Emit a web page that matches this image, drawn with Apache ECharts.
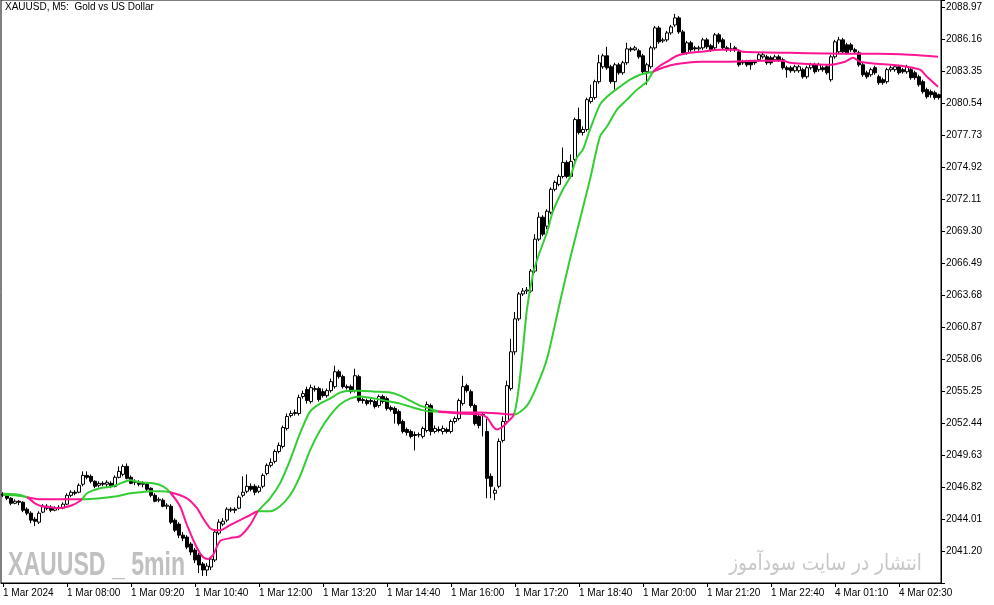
<!DOCTYPE html>
<html><head><meta charset="utf-8">
<script src="https://cdn.jsdelivr.net/npm/echarts@6/dist/echarts.min.js"></script>
<style>html,body{margin:0;padding:0;background:#fff}#c{width:994px;height:605px}</style>
</head><body><div id="c"></div>
<script>
// ---- candle data (XAUUSD M5) ----
const opens = [
2046.18,2046.09,2045.83,2045.39,2045.57,2045.48,2044.87,2044.52,2043.99,2043.73,
2044.61,2045.13,2045.04,2044.78,2044.96,2044.96,2045.31,2046.09,2046.36,2046.36,
2047.06,2047.84,2047.76,2047.32,2046.97,2047.14,2047.06,2047.14,2046.88,2047.67,
2047.93,2048.63,2047.67,2047.23,2047.23,2047.06,2047.06,2046.71,2046.09,2045.66,
2045.66,2045.13,2045.13,2043.91,2043.56,2042.59,2042.42,2041.81,2041.28,2040.84,
2040.06,2039.53,2039.79,2040.41,2042.77,2043.56,2043.91,2044.78,2044.87,2044.96,
2046.09,2046.44,2046.88,2046.88,2046.44,2046.88,2048.01,2048.72,2049.07,2049.94,
2050.38,2051.96,2053.09,2053.27,2053.27,2054.76,2055.37,2054.32,2055.37,2055.46,
2055.19,2054.84,2055.28,2055.63,2056.94,2056.51,2055.63,2055.63,2055.28,2056.51,
2054.49,2054.41,2054.41,2054.32,2053.97,2054.76,2054.58,2053.79,2053.71,2053.44,
2052.57,2051.87,2051.69,2051.43,2051.43,2051.26,2051.78,2053.97,2051.69,2051.87,
2051.69,2051.87,2051.69,2052.57,2052.83,2054.14,2055.72,2055.19,2053.97,2053.01,
2053.18,2051.69,2047.76,2046.27,2046.88,2050.91,2052.57,2055.46,2058.69,2061.58,
2063.77,2064.03,2064.03,2065.78,2068.58,2070.51,2069.72,2070.94,2072.96,2073.39,
2074.09,2075.32,2074.09,2075.58,2079.08,2077.94,2078.21,2080.66,2081.01,2082.41,
2083.72,2084.68,2083.72,2082.41,2083.89,2083.19,2084.07,2085.29,2085.21,2085.12,
2084.68,2083.28,2083.72,2085.38,2087.13,2085.99,2086.08,2086.69,2087.39,2088.01,
2086.78,2084.94,2085.82,2085.38,2085.29,2085.38,2086.08,2085.56,2085.38,2086.52,
2086.08,2085.38,2085.29,2085.38,2085.03,2084.16,2084.16,2084.16,2084.16,2084.33,
2084.59,2084.59,2084.51,2084.33,2084.59,2084.33,2083.63,2083.63,2083.37,2083.37,
2083.46,2082.84,2083.63,2083.89,2083.46,2083.63,2083.72,2082.58,2084.59,2085.03,
2086.08,2085.64,2085.64,2085.21,2084.94,2083.89,2083.19,2083.02,2083.63,2082.84,
2082.58,2082.41,2083.46,2083.46,2083.72,2083.46,2083.28,2083.46,2083.19,2082.84,
2082.41,2081.71,2081.53,2081.44,2081.27
];
const closes = [
2046.09,2045.83,2045.39,2045.57,2045.48,2044.78,2044.52,2043.91,2043.81,2044.52,
2045.13,2044.96,2044.78,2044.96,2045.04,2045.31,2046.09,2046.36,2046.27,2046.97,
2047.84,2047.67,2047.32,2046.88,2047.14,2047.06,2047.23,2046.88,2047.67,2048.19,
2048.63,2047.58,2047.14,2047.32,2047.06,2047.14,2046.62,2046.09,2045.57,2045.74,
2045.13,2045.22,2043.73,2043.03,2042.59,2042.33,2041.54,2041.11,2040.41,2039.97,
2039.53,2039.88,2040.49,2042.86,2043.73,2043.81,2044.87,2044.87,2044.78,2045.92,
2046.36,2046.88,2046.62,2046.36,2046.79,2047.84,2048.72,2048.98,2049.94,2050.47,
2052.04,2053.01,2053.27,2053.36,2054.67,2055.02,2054.41,2055.54,2055.46,2054.49,
2054.84,2055.28,2056.07,2056.94,2056.51,2055.63,2055.54,2055.19,2056.59,2054.41,
2054.41,2054.14,2054.32,2053.88,2054.76,2054.32,2053.71,2053.62,2053.27,2052.39,
2051.69,2051.61,2051.26,2051.34,2051.40,2051.96,2054.06,2051.69,2051.96,2051.78,
2051.96,2051.69,2052.57,2052.83,2054.41,2055.63,2055.28,2053.97,2052.39,2052.22,
2053.09,2047.58,2046.88,2046.53,2050.82,2052.57,2055.72,2058.69,2061.58,2063.77,
2064.03,2064.12,2065.78,2068.58,2070.51,2069.02,2071.03,2072.96,2073.57,2074.09,
2075.32,2074.09,2075.41,2079.08,2077.94,2078.21,2080.83,2081.01,2082.41,2084.07,
2084.68,2083.63,2082.41,2083.89,2083.19,2084.07,2085.29,2085.21,2085.38,2084.59,
2083.28,2083.89,2085.38,2087.13,2085.91,2086.08,2086.69,2087.22,2088.01,2086.78,
2084.94,2085.82,2085.21,2085.29,2085.38,2086.08,2085.47,2085.21,2086.52,2085.91,
2085.38,2085.21,2085.21,2085.21,2083.89,2084.07,2083.89,2083.89,2084.07,2084.77,
2084.77,2084.07,2084.07,2084.59,2084.33,2083.63,2083.46,2083.37,2083.72,2083.72,
2082.84,2083.63,2083.89,2083.28,2083.89,2083.46,2083.19,2084.59,2085.91,2086.08,
2085.03,2084.94,2085.21,2085.03,2083.89,2083.02,2082.84,2083.46,2083.19,2082.32,
2082.32,2083.46,2083.63,2083.72,2083.19,2083.28,2083.72,2082.76,2082.76,2082.14,
2081.53,2081.09,2081.27,2081.01,2081.01
];
const lows = [
2045.92,2045.66,2045.22,2045.31,2045.22,2044.61,2044.34,2043.64,2043.38,2043.56,
2044.52,2044.78,2044.61,2044.69,2044.78,2044.87,2045.22,2045.92,2046.09,2046.27,
2046.88,2047.49,2047.14,2046.71,2046.79,2046.88,2046.79,2046.71,2046.79,2047.58,
2047.76,2047.49,2047.06,2046.97,2046.88,2046.79,2046.44,2045.92,2045.48,2045.48,
2045.04,2044.87,2043.56,2042.86,2042.33,2042.07,2041.37,2040.84,2040.14,2039.26,
2039.01,2039.01,2039.53,2040.23,2042.59,2043.38,2043.73,2044.61,2044.52,2044.87,
2045.92,2046.27,2046.44,2046.09,2046.27,2046.71,2047.84,2048.54,2048.89,2049.77,
2050.21,2051.78,2052.92,2053.09,2053.09,2054.58,2054.14,2054.14,2055.19,2054.32,
2054.67,2054.67,2055.11,2055.46,2056.33,2055.46,2055.37,2055.02,2055.11,2054.23,
2054.14,2053.97,2054.06,2053.71,2053.79,2054.14,2053.53,2053.44,2052.39,2052.22,
2051.52,2051.34,2051.08,2050.03,2051.17,2051.08,2051.61,2051.34,2051.52,2051.61,
2051.43,2051.52,2051.52,2052.39,2052.66,2053.97,2055.11,2053.79,2052.22,2051.96,
2051.26,2045.83,2045.83,2045.66,2046.71,2050.73,2052.39,2055.28,2058.43,2061.41,
2063.59,2063.77,2063.86,2065.61,2068.41,2068.84,2069.46,2070.77,2072.78,2073.22,
2073.92,2073.92,2073.92,2075.41,2077.77,2077.68,2078.03,2080.48,2080.83,2082.23,
2083.54,2083.46,2082.23,2081.71,2083.02,2083.02,2083.89,2085.03,2085.12,2084.42,
2083.11,2082.14,2083.54,2085.21,2085.73,2085.82,2085.91,2086.52,2087.22,2086.61,
2084.77,2084.77,2085.03,2085.12,2085.12,2085.21,2085.29,2085.03,2085.21,2085.73,
2085.21,2085.03,2085.03,2085.03,2083.72,2083.89,2083.72,2083.46,2083.89,2084.16,
2084.42,2083.89,2083.89,2084.16,2084.16,2083.46,2082.76,2083.19,2083.19,2083.19,
2082.67,2082.67,2083.46,2083.11,2083.28,2083.28,2083.02,2082.41,2084.42,2084.86,
2084.86,2084.77,2085.03,2084.86,2083.72,2082.84,2082.67,2082.84,2083.02,2082.14,
2082.14,2082.23,2083.28,2083.28,2083.02,2083.11,2083.11,2082.58,2082.58,2081.97,
2081.36,2080.92,2081.01,2080.83,2080.83
];
const highs = [
2046.36,2046.27,2045.92,2045.74,2045.66,2045.57,2045.04,2044.69,2044.17,2044.69,
2045.31,2045.31,2045.22,2045.13,2045.22,2045.48,2046.27,2046.53,2046.53,2047.14,
2048.19,2048.19,2047.93,2047.41,2047.32,2047.32,2047.41,2047.32,2047.84,2048.63,
2048.81,2048.89,2047.84,2047.49,2047.41,2047.32,2047.23,2046.79,2046.27,2045.92,
2045.83,2045.39,2045.31,2044.08,2043.73,2042.86,2042.59,2041.98,2041.46,2041.02,
2040.23,2040.14,2040.67,2043.12,2043.99,2044.08,2045.04,2045.04,2045.04,2046.09,
2047.76,2047.93,2047.14,2047.06,2046.97,2048.01,2048.89,2049.33,2050.12,2050.73,
2052.22,2053.27,2053.53,2053.62,2054.93,2055.28,2055.63,2055.81,2055.72,2055.63,
2055.46,2055.46,2056.33,2057.47,2057.12,2056.68,2055.81,2055.81,2057.21,2056.68,
2054.67,2054.58,2054.58,2054.49,2054.93,2054.93,2054.76,2053.97,2053.88,2053.62,
2052.74,2052.04,2051.87,2051.69,2051.61,2052.13,2054.32,2054.14,2052.22,2052.13,
2052.22,2052.04,2052.74,2053.01,2054.58,2056.59,2055.89,2055.37,2054.14,2053.18,
2053.36,2052.83,2048.01,2046.79,2051.08,2053.01,2056.16,2059.83,2062.19,2063.94,
2064.29,2064.38,2065.96,2069.02,2070.94,2070.68,2071.21,2073.13,2073.74,2074.27,
2076.63,2075.49,2076.02,2079.26,2080.13,2078.47,2081.01,2082.14,2082.58,2084.77,
2084.86,2085.47,2083.89,2084.07,2084.07,2084.24,2085.82,2085.47,2085.56,2085.29,
2084.86,2084.07,2085.56,2087.31,2087.31,2086.26,2086.87,2087.39,2088.36,2088.18,
2086.96,2085.99,2085.99,2085.56,2085.56,2086.26,2086.26,2085.73,2086.69,2086.69,
2086.26,2085.56,2085.82,2085.56,2085.21,2084.33,2084.33,2084.33,2084.33,2084.94,
2084.94,2084.77,2084.68,2084.77,2084.77,2084.51,2083.81,2083.81,2083.89,2083.89,
2083.63,2083.81,2084.07,2084.07,2084.07,2083.81,2083.89,2084.77,2086.08,2086.34,
2086.26,2085.82,2085.82,2085.38,2085.12,2084.07,2083.37,2083.63,2083.81,2083.02,
2082.76,2083.63,2083.81,2083.89,2083.89,2083.63,2083.89,2083.63,2083.37,2083.02,
2082.58,2081.88,2081.71,2081.62,2081.36
];

// ---- moving averages (bar position, price) ----
const fastIdx = [0,3,6,8,9.75,11.75,13.75,15.5,17.25,18.75,19.75,21,24.25,27.5,30,31.75,34.25,37.5,40,41.75,44.25,46,48.5,50,51.25,52.5,54.25,56.75,59.25,61.75,63.75,66.75,69.25,71.75,74.25,76.75,79.25,81.75,84.25,86.75,89.25,93,96.75,99.25,101.75,104.25,106.75,108.75,114.25,119.25,121,122.5,123.5,125,126.25,127.75,128.75,129.75,131,132.5,133.75,136,137.5,140,141.75,143.5,145,146.75,149.25,151,154.25,156.75,159.25,162.5,164.25,167.5,171,174.25,181,188.5,195,196.75,200,206.75,210.5,212.5,214.25,218.5,221.75,226,229.25,231,233.75];
const fastVal = [2046.22,2046.18,2045.92,2045.39,2045.13,2045.04,2044.96,2045.04,2045.22,2045.48,2045.74,2046.27,2046.71,2046.88,2047.23,2047.41,2047.23,2047.14,2046.88,2046.36,2045.13,2043.47,2041.46,2040.67,2040.49,2040.84,2042.07,2042.33,2042.51,2043.47,2044.69,2045.83,2047.14,2049.16,2051.52,2053.44,2054.14,2054.58,2055.11,2055.28,2055.28,2055.19,2055.11,2054.84,2054.41,2053.97,2053.71,2053.44,2053.27,2053.18,2052.92,2052.13,2051.87,2052.13,2052.57,2053.18,2055.02,2058.08,2062.46,2065.52,2067.01,2069.19,2071.03,2072.96,2074.01,2075.76,2076.46,2078.21,2080.39,2081.09,2081.97,2082.58,2083.02,2083.28,2083.54,2083.89,2084.07,2084.16,2084.16,2084.24,2084.24,2084.07,2083.98,2083.89,2084.16,2084.51,2084.16,2083.98,2083.89,2083.72,2083.46,2082.84,2081.97];
const slowIdx = [0,3,6,9.25,14.25,19.75,24.25,28.5,31.75,34.25,36.75,39.25,41.75,46,48.5,50,51.75,53,54.25,56.75,59.25,61.75,63.75,66.75,69.25,71.75,74.25,76.75,79.25,81.75,84.25,86.75,89.25,93,96.75,99.25,101.75,104.25,106.75,108.75,114.25,119.25,124.25,127.75,131,133.5,136,139.25,141.75,144.25,146.75,149.25,151,153.5,156,158.5,161,162.5,164.25,166,168.5,171.75,174.25,179.25,183.5,185,196.75,213.5,218.5,226.75,233.75];
const slowVal = [2046.14,2046.09,2045.92,2045.74,2045.74,2045.74,2045.83,2046.01,2046.27,2046.36,2046.44,2046.44,2046.36,2045.83,2044.96,2044.08,2043.21,2043.03,2043.03,2043.47,2043.91,2044.34,2044.69,2044.69,2045.13,2046.09,2047.76,2050.03,2051.78,2053.09,2054.06,2054.58,2054.76,2054.58,2054.32,2054.14,2053.88,2053.62,2053.44,2053.44,2053.36,2053.36,2053.27,2053.18,2053.97,2055.72,2058.08,2063.07,2066.83,2070.33,2073.83,2077.59,2078.47,2079.96,2080.83,2081.71,2082.41,2083.28,2083.81,2084.16,2084.68,2084.94,2085.03,2085.21,2085.21,2085.03,2084.94,2084.86,2084.86,2084.77,2084.59];
// bar positions where the two averages cross (trend colour flips), first run is "up"
const crossIdx = [6,19.75,41.75,63.75,108.75,127.75,162.5];

// ---- axes ----
const yTicks = [2041.20,2044.01,2046.82,2049.63,2052.44,2055.25,2058.06,2060.87,2063.68,2066.49,2069.30,2072.11,2074.92,2077.73,2080.54,2083.35,2086.16,2088.97];
const yStep = 2.81;
const yMin = 2038.39, yMax = 2089.58;
const tickIndex = [0,16,32,48,64,80,96,112,128,144,160,176,192,208,224];
const tickLabels = ['1 Mar 2024','1 Mar 08:00','1 Mar 09:20','1 Mar 10:40','1 Mar 12:00','1 Mar 13:20','1 Mar 14:40','1 Mar 16:00','1 Mar 17:20','1 Mar 18:40','1 Mar 20:00','1 Mar 21:20','1 Mar 22:40','4 Mar 01:10','4 Mar 02:30'];

const N = opens.length;
const pad = n => (n < 10 ? '0' : '') + n;
const categories = [];
for (let i = 0; i < N; i++) {
  let day, m;
  if (i <= 206) { day = '1 Mar'; m = 6 * 60 + 40 + 5 * i; }
  else { day = '4 Mar'; m = 65 + 5 * (i - 207); }
  categories.push(day + ' ' + pad(Math.floor(m / 60)) + ':' + pad(m % 60));
}
const candleData = opens.map((o, i) => [o, closes[i], lows[i], highs[i]]);
const fastData = fastIdx.map((x, i) => [x, fastVal[i]]);
const slowData = slowIdx.map((x, i) => [x, slowVal[i]]);

const UP = '#32CD32', DOWN = '#FF1493';
const pieces = [];
for (let k = 0; k <= crossIdx.length; k++) {
  const p = { color: k % 2 === 0 ? UP : DOWN };
  if (k > 0) p.gte = crossIdx[k - 1];
  if (k < crossIdx.length) p.lt = crossIdx[k];
  pieces.push(p);
}
const isTick = (idx) => tickIndex.indexOf(idx) >= 0;
const FONT = 'Liberation Sans';

const chart = echarts.init(document.getElementById('c'), null, { renderer: 'canvas' });
chart.setOption({
  animation: false,
  backgroundColor: '#fff',
  grid: { left: 1, right: 53, top: 0, bottom: 22, show: true, borderColor: '#000', borderWidth: 1 },
  xAxis: [{
    type: 'category', data: categories, boundaryGap: true,
    axisLine: { show: true, onZero: false, lineStyle: { color: '#000', width: 1 } },
    axisTick: { show: true, interval: isTick, alignWithLabel: true, length: 4, lineStyle: { color: '#000' } },
    axisLabel: {
      interval: isTick, align: 'left', margin: 5, color: '#000', fontSize: 10, fontFamily: FONT,
      formatter: (v, idx) => { const k = tickIndex.indexOf(idx); return k >= 0 ? tickLabels[k] : ''; }
    },
    splitLine: { show: false }
  }, {
    type: 'value', min: -0.5, max: N - 0.5, show: false, axisLine: { onZero: false }
  }],
  yAxis: {
    type: 'value', position: 'right', min: yMin, max: yMax, interval: yStep,
    axisLine: { show: true, onZero: false, lineStyle: { color: '#000', width: 1 } },
    axisTick: { show: true, length: 4, lineStyle: { color: '#000' } },
    axisLabel: { customValues: yTicks, formatter: v => v.toFixed(2), margin: 5, color: '#000', fontSize: 10, fontFamily: FONT },
    splitLine: { show: false }
  },
  visualMap: { type: 'piecewise', show: false, dimension: 0, seriesIndex: [1, 2], pieces: pieces },
  graphic: [
    { type: 'text', x: 5, y: 2, z: 10, style: { text: 'XAUUSD, M5:  Gold vs US Dollar', fontSize: 10, fontFamily: FONT, fill: '#000', verticalAlign: 'top' } },
    { type: 'text', x: 8, y: 566, scaleX: 0.70, z: 0, style: { text: 'XAUUSD _ 5min', fontSize: 33, fontWeight: 'bold', fontFamily: FONT, fill: '#C0C0C0', verticalAlign: 'middle' } },
    { type: 'text', x: 922, y: 564, scaleX: 0.84, z: 0, style: { text: 'انتشار در سایت سودآموز', fontSize: 22, fontFamily: 'DejaVu Sans', fill: '#C8C8C8', align: 'right', verticalAlign: 'middle' } }
  ],
  series: [{
    type: 'candlestick', xAxisIndex: 0, data: candleData, barWidth: 3, z: 3,
    itemStyle: { color: '#fff', color0: '#000', borderColor: '#000', borderColor0: '#000', borderWidth: 1 },
    emphasis: { disabled: true }
  }, {
    name: 'slow', type: 'line', xAxisIndex: 1, data: slowData, symbol: 'none', smooth: 0.25, z: 4,
    lineStyle: { width: 2 }, emphasis: { disabled: true }
  }, {
    name: 'fast', type: 'line', xAxisIndex: 1, data: fastData, symbol: 'none', smooth: 0.25, z: 4,
    lineStyle: { width: 2 }, emphasis: { disabled: true }
  }]
});
</script></body></html>
